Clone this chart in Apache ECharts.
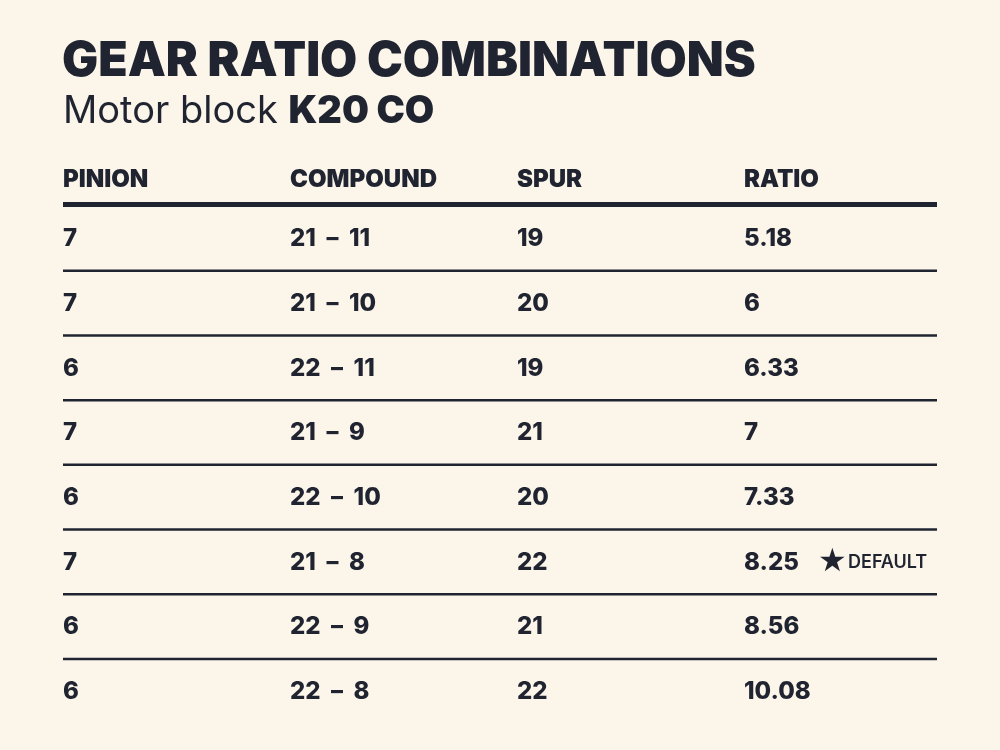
<!DOCTYPE html>
<html>
<head>
<meta charset="utf-8" />
<script src="https://cdn.jsdelivr.net/npm/echarts@6/dist/echarts.min.js"></script>
<style>html,body{margin:0;background:#fcf5ea;}</style>
</head>
<body>
<div id="main" style="width:1000px;height:750px;"></div>
<script>
var columns = ['PINION', 'COMPOUND', 'SPUR', 'RATIO'];
var pinion = ['7', '7', '6', '7', '6', '7', '6', '6'];
var compound = ['21 – 11', '21 – 10', '22 – 11', '21 – 9', '22 – 10', '21 – 8', '22 – 9', '22 – 8'];
var spur = ['19', '20', '19', '21', '20', '22', '21', '22'];
var ratio = ['5.18', '6', '6.33', '7', '7.33', '8.25', '8.56', '10.08'];
var defaultRow = 5;

var ink = '#1f2430';
var font = 'Inter';
var colX = [63, 290, 517, 744];
var rowY0 = 239, rowH = 64.7;
var myChart = echarts.init(document.getElementById('main'));
var els = [];

// title
els.push({ type: 'text', left: 62, top: 38, style: { text: 'GEAR RATIO COMBINATIONS', font: '900 48px ' + font, fill: ink } });
els.push({ type: 'text', left: 63, top: 93, style: {
    text: '{a|Motor block }{b|K20 CO}',
    rich: { a: { font: '400 38px ' + font, fill: ink }, b: { font: '900 38px ' + font, fill: ink } }
} });

// header
columns.forEach(function (c, i) {
    els.push({ type: 'text', x: colX[i], y: 180, style: { text: c, font: '900 24px ' + font, fill: ink, verticalAlign: 'middle' } });
});
els.push({ type: 'rect', shape: { x: 63, y: 202, width: 874, height: 5 }, style: { fill: ink } });

// rows
var cols = [pinion, compound, spur, ratio];
for (var r = 0; r < pinion.length; r++) {
    var y = rowY0 + r * rowH;
    cols.forEach(function (arr, i) {
        els.push({ type: 'text', x: colX[i], y: y, style: { text: arr[i === 1 ? r : r].replace(' – ', '  –  '), font: '800 24px ' + font, fill: ink, verticalAlign: 'middle' } });
    });
    if (r === defaultRow) {
        els.push({ type: 'text', x: 818, y: y, style: { text: '★', font: '32px "DejaVu Sans"', fill: ink, verticalAlign: 'middle' } });
        els.push({ type: 'text', x: 848, y: y, style: { text: 'DEFAULT', font: '600 18px ' + font, fill: ink, verticalAlign: 'middle' } });
    }
    if (r < pinion.length - 1) {
        els.push({ type: 'rect', shape: { x: 63, y: y + 30.5, width: 874, height: 2.5 }, style: { fill: ink } });
    }
}

myChart.setOption({ backgroundColor: '#fcf5ea', graphic: { elements: els } });
</script>
</body>
</html>
